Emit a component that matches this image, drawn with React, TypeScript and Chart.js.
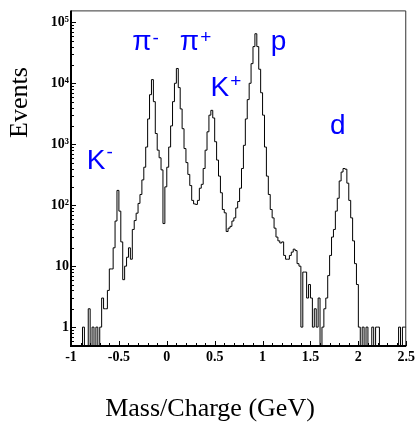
import React, { useEffect, useRef } from 'react';
import { Chart, registerables } from 'chart.js';

Chart.register(...registerables);

// Histogram binning (GeV)
const binStart = -1;
const binWidth = 0.02;

// Events per bin
const counts = [
  0, 0, 0, 0, 0, 0, 0, 1, 0, 0,
  2, 0, 1, 0, 1, 0, 1, 3, 2, 2,
  4, 9, 9, 20, 55, 175, 80, 25, 6, 10,
  14, 20, 13, 40, 56, 74, 107, 150, 260, 420,
  900, 2600, 6500, 11500, 5000, 1500, 800, 600, 380, 50,
  200, 420, 900, 2000, 5000, 10000, 17500, 8500, 3800, 1800,
  850, 500, 320, 210, 120, 105, 103, 120, 190, 220,
  400, 800, 1600, 3000, 3600, 2700, 1100, 550, 300, 160,
  85, 75, 37, 42, 45, 55, 62, 90, 115, 190,
  400, 960, 2600, 5400, 10000, 21000, 40000, 65000, 40000, 17000,
  7000, 3000, 900, 300, 150, 85, 62, 42, 30, 26,
  24, 25, 15, 13, 13, 15, 17, 19, 18, 11,
  10, 1, 8, 8, 3, 5, 3, 1, 2, 1,
  3, 0, 1, 2, 3, 7, 15, 30, 40, 80,
  130, 250, 350, 400, 390, 230, 120, 62, 26, 11,
  5, 1, 0, 1, 0, 1, 0, 0, 1, 0,
  1, 1, 0, 0, 0, 0, 0, 0, 0, 0,
  0, 0, 1, 0, 1,
];

const xMin = -1;
const xMax = 2.5;
const yMin = 0.49;
const yMax = 157000;

const xTickValues = [-1, -0.5, 0, 0.5, 1, 1.5, 2, 2.5];
const xTickLabels = ['-1', '-0.5', '0', '0.5', '1', '1.5', '2', '2.5'];
const yTickValues = [1, 10, 100, 1000, 10000, 100000];
const yTickLabels = ['1', '10', '10\u00B2', '10\u00B3', '10\u2074', '10\u2075'];

const particleNames = ['K', '\u03C0', '\u03C0', 'K', 'p', 'd'];
const particleCharges = ['-', '-', '+', '+', '', ''];
// label anchor in data coordinates (mass/charge, events)
const labelMass = [-0.835, -0.36, 0.136, 0.456, 1.085, 1.705];
const labelEvents = [396, 35100, 35100, 6300, 35100, 1465];
const chargeRise = [11, 6, 7, 9, 0, 0];

const xTitle = 'Mass/Charge (GeV)';
const yTitle = 'Events';

const decorPlugin = {
  id: 'decor',
  afterDraw(chart: any) {
    const { ctx, chartArea: a } = chart;
    const xs = chart.scales.x;
    const ys = chart.scales.y;
    ctx.save();
    ctx.strokeStyle = '#000';
    ctx.lineWidth = 1;
    ctx.beginPath();
    for (let e = -1; e <= 5; e++) {
      for (let k = 1; k <= 9; k++) {
        const v = k * Math.pow(10, e);
        if (v < ys.min || v > ys.max) continue;
        const py = Math.round(ys.getPixelForValue(v)) + 0.5;
        const len = k === 1 ? 5 : 3;
        ctx.moveTo(a.left, py);
        ctx.lineTo(a.left + len, py);
      }
    }
    for (let i = 0; i <= 35; i++) {
      const v = xMin + i * 0.1;
      const px = Math.round(xs.getPixelForValue(v)) + 0.5;
      const len = i % 5 === 0 ? 5 : 3;
      ctx.moveTo(px, a.bottom);
      ctx.lineTo(px, a.bottom - len);
    }
    ctx.stroke();

    // frame
    ctx.strokeStyle = '#333';
    ctx.lineWidth = 1;
    ctx.beginPath();
    ctx.moveTo(a.left, a.top + 0.5);
    ctx.lineTo(a.right - 0.5, a.top + 0.5);
    ctx.lineTo(a.right - 0.5, a.bottom);
    ctx.stroke();
    ctx.strokeStyle = '#000';
    ctx.lineWidth = 2;
    ctx.beginPath();
    ctx.moveTo(a.left, a.top);
    ctx.lineTo(a.left, a.bottom);
    ctx.lineTo(a.right, a.bottom);
    ctx.stroke();

    // particle labels
    ctx.fillStyle = '#0000ff';
    ctx.textBaseline = 'alphabetic';
    ctx.textAlign = 'left';
    for (let i = 0; i < particleNames.length; i++) {
      const px = xs.getPixelForValue(labelMass[i]);
      const py = ys.getPixelForValue(labelEvents[i]);
      ctx.font = '28px "Liberation Sans", Arial, sans-serif';
      ctx.fillText(particleNames[i], px, py);
      if (particleCharges[i]) {
        const w = ctx.measureText(particleNames[i]).width;
        ctx.font = '19px "Liberation Sans", Arial, sans-serif';
        ctx.fillText(particleCharges[i], px + w + 1, py - chargeRise[i]);
      }
    }

    // axis titles
    ctx.fillStyle = '#000';
    ctx.font = '26px "Liberation Serif", "Times New Roman", serif';
    ctx.textAlign = 'center';
    ctx.fillText(xTitle, 210, 416);
    ctx.save();
    ctx.translate(27, 102.5);
    ctx.rotate(-Math.PI / 2);
    ctx.fillText(yTitle, 0, 0);
    ctx.restore();
    ctx.restore();
  },
};

export default function App() {
  const ref = useRef<HTMLCanvasElement>(null);
  useEffect(() => {
    // empty bins sit on the bottom of the log axis
    const points = counts.map((c, i) => ({ x: binStart + i * binWidth, y: c > 0 ? c : yMin }));
    const last = counts[counts.length - 1];
    points.push({ x: binStart + counts.length * binWidth, y: last > 0 ? last : yMin });
    const tickFont = { family: '"Liberation Serif", "Times New Roman", serif', weight: 'bold' as const, size: 14 };
    const chart = new Chart(ref.current!, {
      type: 'line',
      data: {
        datasets: [
          {
            data: points,
            stepped: 'after',
            borderColor: '#000',
            borderWidth: 1,
            pointRadius: 0,
            fill: false,
          },
        ],
      },
      options: {
        animation: false,
        responsive: false,
        devicePixelRatio: 1,
        layout: { padding: { top: 7, right: 8, left: 0, bottom: 0 } },
        plugins: { legend: { display: false }, tooltip: { enabled: false } },
        scales: {
          x: {
            type: 'linear',
            min: xMin,
            max: xMax,
            afterBuildTicks: (s: any) => {
              s.ticks = xTickValues.map((v) => ({ value: v }));
            },
            afterFit: (s: any) => {
              s.height = 77;
            },
            grid: { display: false, drawTicks: false },
            border: { display: false },
            ticks: {
              autoSkip: false,
              maxRotation: 0,
              padding: 3,
              color: '#000',
              font: tickFont,
              callback: (v: any) => {
                const i = xTickValues.indexOf(Number(v));
                return i >= 0 ? xTickLabels[i] : '';
              },
            },
          },
          y: {
            type: 'logarithmic',
            min: yMin,
            max: yMax,
            afterBuildTicks: (s: any) => {
              s.ticks = yTickValues.map((v) => ({ value: v }));
            },
            afterFit: (s: any) => {
              s.width = 71;
            },
            grid: { display: false, drawTicks: false },
            border: { display: false },
            ticks: {
              padding: 2,
              color: '#000',
              font: tickFont,
              callback: (v: any) => {
                const i = yTickValues.indexOf(Number(v));
                return i >= 0 ? yTickLabels[i] : '';
              },
            },
          },
        },
      },
      plugins: [decorPlugin],
    } as any);
    return () => chart.destroy();
  }, []);
  return (
    <div style={{ position: 'absolute', left: 0, top: 0, width: 418, height: 423 }}>
      <canvas ref={ref} width={418} height={423} style={{ display: 'block' }} />
    </div>
  );
}
